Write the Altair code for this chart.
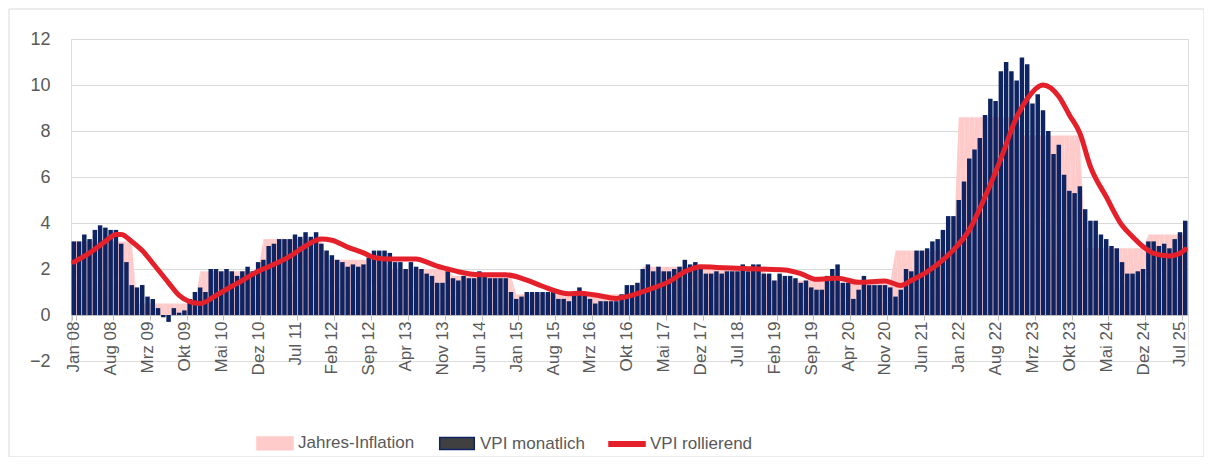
import altair as alt
import pandas as pd

MONTH_ABBR = ["Jan", "Feb", "Mrz", "Apr", "Mai", "Jun", "Jul", "Aug", "Sep", "Okt", "Nov", "Dez"]

# VPI monatlich (Veränderung zum Vorjahresmonat, %)
vpi_2008 = [3.2, 3.2, 3.5, 3.3, 3.7, 3.9, 3.8, 3.7, 3.7, 3.1, 2.3, 1.3]
vpi_2009 = [1.2, 1.3, 0.8, 0.7, 0.3, -0.1, -0.3, 0.3, 0.1, 0.2, 0.7, 1.0]
vpi_2010 = [1.2, 1.0, 2.0, 2.0, 1.9, 2.0, 1.9, 1.7, 1.9, 2.1, 1.9, 2.3]
vpi_2011 = [2.4, 3.0, 3.1, 3.3, 3.3, 3.3, 3.5, 3.4, 3.6, 3.4, 3.6, 3.1]
vpi_2012 = [2.8, 2.6, 2.4, 2.3, 2.1, 2.2, 2.1, 2.2, 2.5, 2.8, 2.8, 2.8]
vpi_2013 = [2.7, 2.3, 2.3, 2.0, 2.3, 2.1, 2.0, 1.8, 1.7, 1.4, 1.4, 1.9]
vpi_2014 = [1.6, 1.5, 1.7, 1.6, 1.6, 1.9, 1.8, 1.6, 1.6, 1.6, 1.6, 1.0]
vpi_2015 = [0.7, 0.8, 1.0, 1.0, 1.0, 1.0, 1.0, 1.0, 0.7, 0.7, 0.6, 0.9]
vpi_2016 = [1.2, 0.9, 0.7, 0.5, 0.6, 0.6, 0.6, 0.6, 0.9, 1.3, 1.3, 1.4]
vpi_2017 = [2.0, 2.2, 1.9, 2.1, 1.9, 1.9, 2.0, 2.1, 2.4, 2.2, 2.3, 2.0]
vpi_2018 = [1.8, 1.8, 1.9, 1.8, 1.9, 1.9, 1.9, 2.2, 1.9, 2.2, 2.2, 1.8]
vpi_2019 = [1.8, 1.5, 1.8, 1.7, 1.7, 1.6, 1.4, 1.5, 1.2, 1.1, 1.1, 1.7]
vpi_2020 = [2.0, 2.2, 1.4, 1.4, 0.7, 1.1, 1.7, 1.3, 1.3, 1.3, 1.3, 1.2]
vpi_2021 = [0.8, 1.1, 2.0, 1.9, 2.8, 2.8, 2.9, 3.2, 3.3, 3.7, 4.3, 4.3]
vpi_2022 = [5.0, 5.8, 6.8, 7.2, 7.7, 8.7, 9.4, 9.3, 10.6, 11.0, 10.6, 10.2]
vpi_2023 = [11.2, 10.9, 9.2, 9.6, 8.9, 8.0, 7.0, 7.4, 6.1, 5.4, 5.3, 5.6]
vpi_2024 = [4.6, 4.1, 4.1, 3.5, 3.3, 3.0, 2.9, 2.3, 1.8, 1.8, 1.9, 2.0]
vpi_2025 = [3.2, 3.2, 3.0, 3.1, 2.9, 3.3, 3.6, 4.1]

vpi_monthly = (vpi_2008 + vpi_2009 + vpi_2010 + vpi_2011 + vpi_2012 + vpi_2013
               + vpi_2014 + vpi_2015 + vpi_2016 + vpi_2017 + vpi_2018 + vpi_2019
               + vpi_2020 + vpi_2021 + vpi_2022 + vpi_2023 + vpi_2024 + vpi_2025)

# Jahres-Inflation (Jahresdurchschnitt je Jahr 2008..2025)
annual_inflation = [3.2, 0.5, 1.9, 3.3, 2.4, 2.0, 1.7, 0.9, 0.9, 2.1, 2.0, 1.5,
                    1.4, 2.8, 8.6, 7.8, 2.9, 3.5]

roll_months = ["Jan 08", "Apr 08", "Jul 08", "Sep 08", "Okt 08", "Dez 08", "Feb 09", "Apr 09",
               "Jul 09", "Sep 09", "Nov 09", "Jan 10", "Apr 10", "Jul 10", "Sep 10", "Dez 10",
               "Feb 11", "Jun 11", "Sep 11", "Dez 11", "Feb 12", "Mai 12", "Aug 12", "Okt 12",
               "Jan 13", "Jun 13", "Aug 13", "Okt 13", "Dez 13", "Feb 14", "Jun 14", "Nov 14",
               "Mrz 15", "Jun 15", "Nov 15", "Jan 16", "Apr 16", "Aug 16", "Okt 16", "Dez 16",
               "Feb 17", "Jun 17", "Sep 17", "Dez 17", "Mrz 18", "Jul 18", "Nov 18", "Apr 19",
               "Jul 19", "Okt 19", "Dez 19", "Feb 20", "Jun 20", "Nov 20", "Feb 21", "Apr 21",
               "Jul 21", "Okt 21", "Dez 21", "Mrz 22", "Jun 22", "Sep 22", "Dez 22", "Feb 23",
               "Mai 23", "Aug 23", "Okt 23", "Dez 23", "Feb 24", "Mai 24", "Aug 24", "Okt 24",
               "Dez 24", "Feb 25", "Mai 25", "Jul 25", "Aug 25"]
roll_values = [2.3, 2.7, 3.2, 3.5, 3.5, 3.2, 2.8, 2.25,
               1.4, 0.85, 0.58, 0.5, 0.85, 1.25, 1.5, 1.9,
               2.1, 2.55, 3.0, 3.3, 3.25, 2.95, 2.7, 2.5,
               2.43, 2.43, 2.3, 2.12, 2.0, 1.88, 1.75, 1.75,
               1.52, 1.25, 0.92, 0.95, 0.87, 0.72, 0.8, 0.93,
               1.09, 1.45, 1.88, 2.1, 2.07, 2.03, 2.0, 1.96,
               1.8, 1.55, 1.58, 1.6, 1.42, 1.48, 1.28, 1.5,
               1.88, 2.4, 2.83, 3.7, 5.14, 6.8, 8.6, 9.4,
               10.0, 9.5, 8.7, 7.9, 6.45, 5.14, 3.9, 3.4,
               2.97, 2.68, 2.57, 2.68, 2.85]

series_names = ["Jahres-Inflation", "VPI monatlich", "VPI rollierend"]

# ---- tables built from the arrays ----
months = [f"{MONTH_ABBR[i % 12]} {(2008 + i // 12) % 100:02d}" for i in range(len(vpi_monthly))]
bars_df = pd.DataFrame({"month": months, "idx": range(len(months)), "vpi": vpi_monthly})
area_df = pd.DataFrame({"month": months, "idx": range(len(months)),
                        "jahr": [annual_inflation[i // 12] for i in range(len(months))]})
line_df = pd.DataFrame({"month": roll_months,
                        "idx": [months.index(m) for m in roll_months],
                        "roll": roll_values})
legend_df = pd.DataFrame({"series": series_names})

FONT = "Liberation Sans"
TXT = "#595959"

xscale = alt.Scale(domain=months, paddingInner=0.15, paddingOuter=0.1)
yscale = alt.Scale(domain=[-2, 12], nice=False, zero=False)

x_axis = alt.Axis(values=months[::7], labelAngle=270, labelFontSize=17, labelFont=FONT,
                  labelColor=TXT, offset=-46, domainColor="#BFBFBF", domainWidth=1,
                  tickColor="#BFBFBF", tickSize=5, tickBand="extent", labelPadding=1,
                  title=None, grid=False, labelOverlap=False)
y_axis = alt.Axis(values=list(range(-2, 13, 2)), domain=False, ticks=False, labelFontSize=18,
                  labelFont=FONT, labelColor=TXT, labelPadding=21, grid=True,
                  gridColor={"condition": {"test": "datum.value <= 0", "value": "transparent"},
                             "value": "#D9D9D9"},
                  gridWidth=1, title=None)

area = alt.Chart(area_df).mark_area(color="#FFCACA", interpolate="linear").encode(
    x=alt.X("month:N", scale=xscale, axis=x_axis, sort=months),
    y=alt.Y("jahr:Q", scale=yscale, axis=y_axis),
    order=alt.Order("idx:Q"),
)

bars = alt.Chart(bars_df).mark_bar(color="#0E2462").encode(
    x=alt.X("month:N", scale=xscale, sort=months),
    y=alt.Y("vpi:Q", scale=yscale),
)

line = alt.Chart(line_df).mark_line(color="#E4202A", strokeWidth=5, interpolate="monotone",
                                    strokeCap="round", strokeJoin="round").encode(
    x=alt.X("month:N", scale=xscale, sort=months),
    y=alt.Y("roll:Q", scale=yscale),
    order=alt.Order("idx:Q"),
)

leg = alt.Legend(title=None, orient="none", legendX=185, legendY=385, direction="horizontal",
                 symbolSize=1296, labelFontSize=17, labelFont=FONT, labelColor=TXT,
                 labelOffset=4, columnPadding=21, symbolOpacity=1, symbolStrokeWidth=1.5,
                 padding=0)
legend_layer = alt.Chart(legend_df).mark_point(filled=True, opacity=0, size=1).encode(
    x=alt.value(0), y=alt.value(0),
    color=alt.Color("series:N", scale=alt.Scale(domain=series_names,
                    range=["#FFCACA", "#404040", "#E4202A"]), legend=leg),
    stroke=alt.Stroke("series:N", scale=alt.Scale(domain=series_names,
                      range=["#FFCACA", "#0E2462", "#E4202A"]), legend=leg),
    shape=alt.Shape("series:N", scale=alt.Scale(domain=series_names,
                    range=["M-1,-0.35H1V0.35H-1Z", "M-0.96,-0.33H0.96V0.33H-0.96Z",
                           "M-1,-0.12H1V0.12H-1Z"]), legend=leg),
)

frame = alt.Chart(legend_df.head(1)).mark_rect(fill=None, stroke="#D9D9D9", strokeWidth=1).encode(
    x=alt.value(-62), x2=alt.value(1133), y=alt.value(-30), y2=alt.value(418),
)

chart = alt.layer(area, bars, line, legend_layer, frame).properties(
    width=1117, height=322,
    autosize=alt.AutoSizeParams(type="none"),
    padding={"left": 63, "top": 31, "right": 16, "bottom": 96},
).configure_view(stroke=None).configure(background="white")

chart.save("out.html", embed_options={"renderer": "svg", "actions": False})
